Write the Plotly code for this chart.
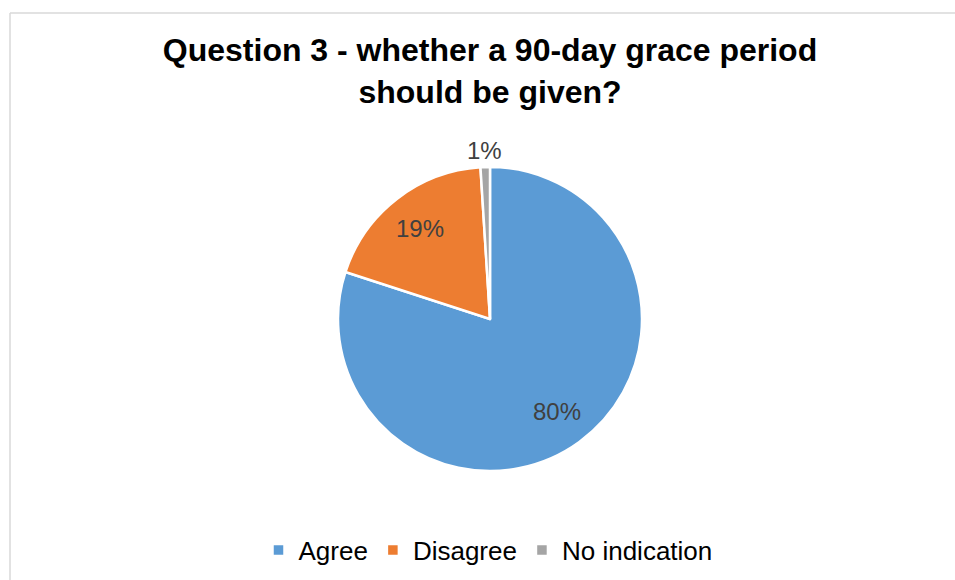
import math
import plotly.graph_objects as go

categories = ["Agree", "Disagree", "No indication"]
values = [80, 19, 1]
colors = ["#5B9BD5", "#ED7D31", "#A5A5A5"]
label_pos = ["inside", "inside", "outside"]
title_text = "Question 3 - whether a 90-day grace period<br>should be given?"

W, H = 955, 580
FONT = "Arial, 'Liberation Sans', sans-serif"

# pie geometry (pixels)
CX, CY, R = 490, 319, 152

fig = go.Figure(go.Pie(
    labels=categories,
    values=values,
    sort=False,
    direction="clockwise",
    rotation=0,
    marker=dict(colors=colors, line=dict(color="white", width=2.5)),
    textinfo="none",
    domain=dict(x=[(CX - R) / W, (CX + R) / W], y=[1 - (CY + R) / H, 1 - (CY - R) / H]),
    hoverinfo="label+percent",
))

# data labels placed along each slice's bisector (Excel-like)
total = sum(values)
annotations = []
cum = 0
for v, pos in zip(values, label_pos):
    mid = (cum + v / 2) / total * 2 * math.pi
    cum += v
    rf = 0.75 if pos == "inside" else 1.11
    px = CX + rf * R * math.sin(mid)
    py = CY - rf * R * math.cos(mid)
    annotations.append(dict(
        x=px / W, y=1 - py / H, xref="paper", yref="paper",
        text=f"{round(100 * v / total)}%", showarrow=False,
        xanchor="center", yanchor="middle",
        font=dict(size=24, color="#404040", family=FONT),
    ))

fig.update_layout(
    width=W, height=H,
    margin=dict(l=0, r=0, t=0, b=0),
    paper_bgcolor="white",
    plot_bgcolor="white",
    font=dict(family=FONT, color="black"),
    title=dict(
        text="<b>" + title_text + "</b>",
        x=490 / W, xanchor="center",
        y=1 - 61 / H, yanchor="top",
        font=dict(size=32, color="black", family=FONT),
    ),
    legend=dict(
        orientation="h",
        x=488 / W, xanchor="center",
        y=1 - 550 / H, yanchor="middle",
        font=dict(size=26, color="black", family=FONT),
    ),
    annotations=annotations,
    shapes=[
        dict(type="line", xref="paper", yref="paper",
             x0=10 / W, x1=1, y0=1 - 13 / H, y1=1 - 13 / H,
             line=dict(color="#D9D9D9", width=1.5)),
        dict(type="line", xref="paper", yref="paper",
             x0=10 / W, x1=10 / W, y0=0, y1=1 - 13 / H,
             line=dict(color="#D9D9D9", width=1.5)),
    ],
)

fig.write_html(
    "out.html",
    config={"displayModeBar": False},
    post_script="document.body.style.margin='0';document.body.style.overflow='hidden';",
)
